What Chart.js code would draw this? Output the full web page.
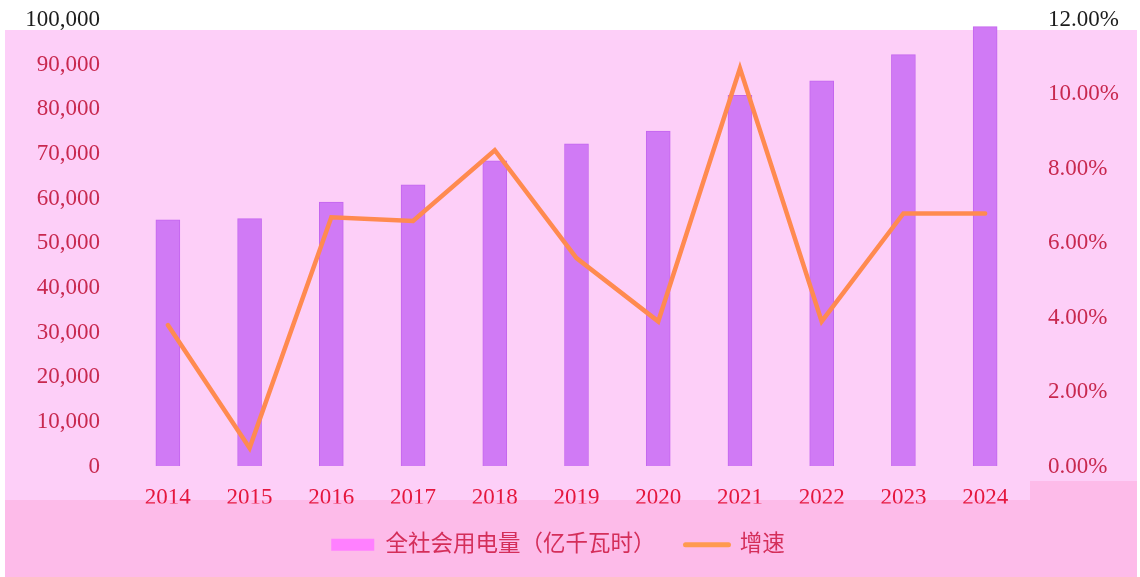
<!DOCTYPE html>
<html>
<head>
<meta charset="utf-8">
<script src="https://cdn.jsdelivr.net/npm/chart.js@4/dist/chart.umd.min.js"></script>
<style>
html,body{margin:0;padding:0;background:#fff;}
#wrap{width:1140px;height:577px;position:relative;}
</style>
</head>
<body>
<div id="wrap"><canvas id="c" width="1140" height="577"></canvas></div>
<script>
const categories = ['2014','2015','2016','2017','2018','2019','2020','2021','2022','2023','2024'];
const consumption = [55233, 55500, 59198, 63077, 68449, 72255, 75110, 83128, 86372, 92241, 98521];
const growth = [3.8, 0.5, 6.7, 6.6, 8.5, 5.6, 3.9, 10.7, 3.9, 6.8, 6.8];
const leftTicks = {min: 0, max: 100000, step: 10000};
const rightTicks = {min: 0, max: 12, step: 2};
const seriesNames = ['全社会用电量（亿千瓦时）', '增速'];

const FONT = "'Liberation Serif', 'Noto Sans CJK SC', serif";

const bgPlugin = {
  id: 'bg',
  beforeDraw(chart) {
    const ctx = chart.ctx;
    ctx.save();
    ctx.fillStyle = '#ffffff';
    ctx.fillRect(0, 0, chart.width, chart.height);
    ctx.fillStyle = '#fdcff8';
    ctx.fillRect(5, 30, 1132, 470);
    ctx.fillStyle = '#fdbbe9';
    ctx.fillRect(5, 500, 1132, 77);
    ctx.fillRect(1030, 481, 107, 19);
    ctx.restore();
  }
};

const legendShift = {
  id: 'legendShift',
  afterLayout(chart) {
    if (chart.legend) {
      chart.legend.left -= 12;
      chart.legend.right -= 12;
    }
  }
};

new Chart(document.getElementById('c'), {
  data: {
    labels: categories,
    datasets: [
      {
        type: 'bar',
        label: seriesNames[0],
        data: consumption,
        yAxisID: 'y',
        backgroundColor: '#d07af5',
        borderColor: '#c466ef',
        borderWidth: 1,
        barThickness: 24,
        order: 2
      },
      {
        type: 'line',
        label: seriesNames[1],
        data: growth,
        yAxisID: 'y1',
        borderColor: '#ff8a50',
        backgroundColor: '#ff9a60',
        borderWidth: 4.5,
        borderCapStyle: 'round',
        pointRadius: 0,
        pointHoverRadius: 0,
        tension: 0,
        fill: false,
        order: 1
      }
    ]
  },
  plugins: [bgPlugin, legendShift],
  options: {
    responsive: false,
    animation: false,
    layout: {padding: {top: 20, left: 0, right: 0, bottom: 11}},
    plugins: {
      tooltip: {enabled: false},
      legend: {
        position: 'bottom',
        labels: {
          font: {family: FONT, size: 22.5},
          color: '#d42e5a',
          usePointStyle: true,
          pointStyleWidth: 43,
          boxHeight: 12,
          padding: 30,
          generateLabels(chart) {
            const ds = chart.data.datasets;
            return [
              {text: ds[0].label, fillStyle: '#ff80ff', strokeStyle: '#ff80ff', lineWidth: 0, pointStyle: 'rect', datasetIndex: 0, fontColor: '#d42e5a'},
              {text: ds[1].label, fillStyle: '#ff9a50', strokeStyle: '#ff9a50', lineWidth: 5, lineCap: 'round', pointStyle: 'line', datasetIndex: 1, fontColor: '#d42e5a'}
            ];
          }
        }
      }
    },
    scales: {
      x: {
        grid: {display: false, drawTicks: false},
        border: {display: false},
        ticks: {font: {family: FONT, size: 23}, color: '#e5173f', padding: 18, maxRotation: 0, autoSkip: false},
        afterFit(s) { s.height = 37; }
      },
      y: {
        position: 'left',
        min: leftTicks.min, max: leftTicks.max,
        grid: {display: true, drawOnChartArea: false, drawTicks: true, tickLength: 24, color: 'rgba(0,0,0,0)'},
        border: {display: false},
        ticks: {
          stepSize: leftTicks.step,
          font: {family: FONT, size: 23},
          padding: 3,
          color: (c) => c.tick && c.tick.value === leftTicks.max ? '#1c1c1c' : '#c8284f',
          callback: (v) => Number(v).toLocaleString('en-US')
        },
        afterFit(s) { s.width = 127; }
      },
      y1: {
        position: 'right',
        min: rightTicks.min, max: rightTicks.max,
        grid: {display: true, drawOnChartArea: false, drawTicks: true, tickLength: 19, color: 'rgba(0,0,0,0)'},
        border: {display: false},
        ticks: {
          stepSize: rightTicks.step,
          font: {family: FONT, size: 23},
          padding: 3,
          color: (c) => c.tick && c.tick.value === rightTicks.max ? '#1c1c1c' : '#c8284f',
          callback: (v) => Number(v).toFixed(2) + '%'
        },
        afterFit(s) { s.width = 114; }
      }
    }
  }
});
</script>
</body>
</html>
